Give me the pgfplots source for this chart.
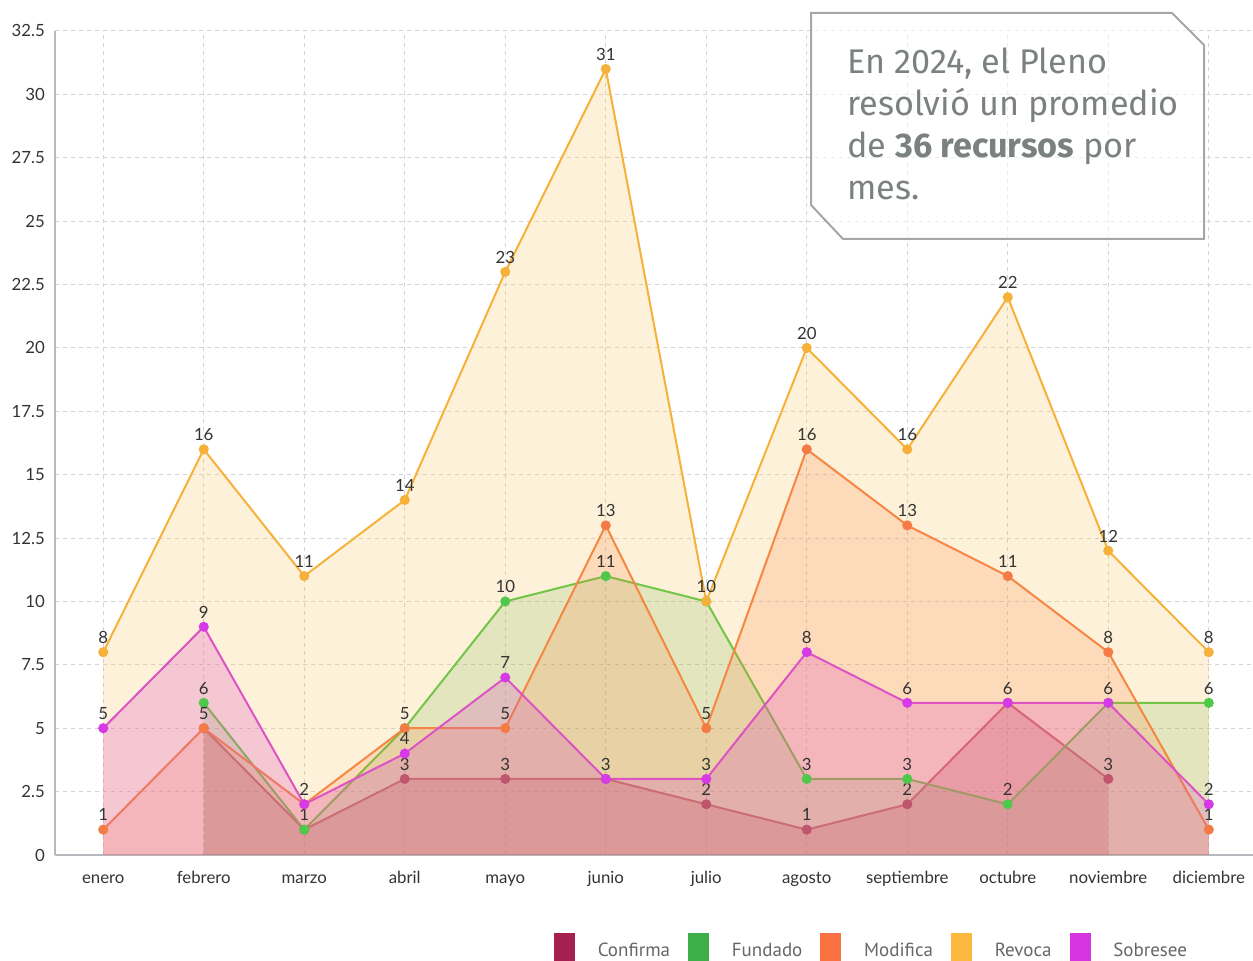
\documentclass[border=0pt]{standalone}
\usepackage{fontspec}
\setmainfont{Lato}
\newfontfamily\boxfont{Fira Sans}
\newfontfamily\legfont{PT Sans}
\usepackage{pgfplots}
\pgfplotsset{compat=1.18}

\definecolor{cConf}{HTML}{A51F4F}
\definecolor{cFund}{HTML}{3EAE48}
\definecolor{cMod}{HTML}{F97242}
\definecolor{cRev}{HTML}{FBBA3F}
\definecolor{cSob}{HTML}{D536E0}
\definecolor{lConf}{HTML}{C0566E}
\definecolor{lFund}{HTML}{50C84A}
\definecolor{lMod}{HTML}{F47B45}
\definecolor{lRev}{HTML}{F6B13A}
\definecolor{lSob}{HTML}{D63AE6}
\definecolor{gridgray}{HTML}{D2D5D8}
\definecolor{axisgray}{HTML}{B5B9BE}
\definecolor{ticktext}{HTML}{333333}
\definecolor{boxline}{HTML}{A3A7A7}
\definecolor{boxtext}{HTML}{7B8080}
\definecolor{legtext}{HTML}{666666}

\begin{document}
\begin{tikzpicture}
\begin{axis}[
  at={(0pt,0pt)}, anchor=south west,
  scale only axis, width=599pt, height=412pt,
  xmin=-0.48, xmax=11.44, ymin=0, ymax=32.5,
  enlargelimits=false, clip=false,
  axis x line*=bottom, axis y line*=left,
  axis line style={-, draw=axisgray, line width=1pt},
  xtick={0,...,11},
  xticklabels={enero,febrero,marzo,abril,mayo,junio,julio,agosto,septiembre,octubre,noviembre,diciembre},
  ytick={0,2.5,5,7.5,10,12.5,15,17.5,20,22.5,25,27.5,30,32.5},
  yticklabels={0,2.5,5,7.5,10,12.5,15,17.5,20,22.5,25,27.5,30,32.5},
  major tick length=0pt,
  grid=major,
  grid style={gridgray, line width=0.5pt, dash pattern=on 2pt off 2pt},
  tick label style={font=\fontsize{8.4}{10}\selectfont, text=ticktext},
  /pgf/number format/assume math mode=true,
  yticklabel style={xshift=-1.5pt},
  xticklabel style={text height=6pt, text depth=2pt, yshift=-4.5pt},
  point meta=explicit symbolic,
  every node near coord/.append style={font=\fontsize{8.4}{10}\selectfont, text=ticktext, yshift=0.5pt},
  legend image code/.code={\fill[#1] (0pt,-8pt) rectangle (10pt,8.9pt);},
  legend style={at={(0.4165,-0.0947)}, anchor=north west, draw=none, fill=none,
    inner sep=0pt, outer sep=0pt,
    font=\legfont\fontsize{9.5}{12}\selectfont, text=legtext,
    nodes={inner sep=0pt},
    /tikz/every odd column/.append style={column sep=11.5pt},
    /tikz/every even column/.append style={column sep=9pt}},
  legend columns=5,
]
% Confirma
\addplot[forget plot, draw=none, fill=cConf, fill opacity=0.25]
  coordinates {(1,5)(2,1)(3,3)(4,3)(5,3)(6,2)(7,1)(8,2)(9,6)(10,3)} \closedcycle;
\addplot[forget plot, lConf, line width=1pt, mark=*, mark size=2pt, mark options={fill=lConf, draw=lConf}, nodes near coords]
  coordinates {(1,5)[] (2,1)[] (3,3)[3] (4,3)[3] (5,3)[] (6,2)[2] (7,1)[1] (8,2)[2] (9,6)[] (10,3)[3]};
% Fundado
\addplot[forget plot, draw=none, fill=cFund, fill opacity=0.18]
  coordinates {(1,6)(2,1)(3,5)(4,10)(5,11)(6,10)(7,3)(8,3)(9,2)(10,6)(11,6)} \closedcycle;
\addplot[forget plot, lFund, line width=1pt, mark=*, mark size=2pt, mark options={fill=lFund, draw=lFund}, nodes near coords]
  coordinates {(1,6)[6] (2,1)[1] (3,5)[] (4,10)[10] (5,11)[11] (6,10)[] (7,3)[3] (8,3)[3] (9,2)[2] (10,6)[] (11,6)[6]};
% Modifica
\addplot[forget plot, draw=none, fill=cMod, fill opacity=0.2]
  coordinates {(0,1)(1,5)(2,2)(3,5)(4,5)(5,13)(6,5)(7,16)(8,13)(9,11)(10,8)(11,1)} \closedcycle;
\addplot[forget plot, lMod, line width=1pt, mark=*, mark size=2pt, mark options={fill=lMod, draw=lMod}, nodes near coords]
  coordinates {(0,1)[1] (1,5)[5] (2,2)[2] (3,5)[5] (4,5)[5] (5,13)[13] (6,5)[5] (7,16)[16] (8,13)[13] (9,11)[11] (10,8)[8] (11,1)[1]};
% Sobresee
\addplot[forget plot, draw=none, fill=cSob, fill opacity=0.26]
  coordinates {(0,5)(1,9)(2,2)(3,4)(4,7)(5,3)(6,3)(7,8)(8,6)(9,6)(10,6)(11,2)} \closedcycle;
\addplot[forget plot, lSob, line width=1pt, mark=*, mark size=2pt, mark options={fill=lSob, draw=lSob}, nodes near coords]
  coordinates {(0,5)[5] (1,9)[9] (2,2)[] (3,4)[4] (4,7)[7] (5,3)[3] (6,3)[3] (7,8)[8] (8,6)[6] (9,6)[6] (10,6)[6] (11,2)[2]};
% Revoca
\addplot[forget plot, draw=none, fill=cRev, fill opacity=0.2]
  coordinates {(0,8)(1,16)(2,11)(3,14)(4,23)(5,31)(6,10)(7,20)(8,16)(9,22)(10,12)(11,8)} \closedcycle;
\addplot[forget plot, lRev, line width=1pt, mark=*, mark size=2pt, mark options={fill=lRev, draw=lRev}, nodes near coords]
  coordinates {(0,8)[8] (1,16)[16] (2,11)[11] (3,14)[14] (4,23)[23] (5,31)[31] (6,10)[10] (7,20)[20] (8,16)[16] (9,22)[22] (10,12)[12] (11,8)[8]};

\addlegendimage{cConf}\addlegendentry{Confirma}
\addlegendimage{cFund}\addlegendentry{Fundado}
\addlegendimage{cMod}\addlegendentry{Modifica}
\addlegendimage{cRev}\addlegendentry{Revoca}
\addlegendimage{cSob}\addlegendentry{Sobresee}
\end{axis}

% text box
\fill[white, fill opacity=0.55] (378pt,421pt) -- (558.5pt,421pt) -- (574.5pt,405pt) -- (574.5pt,308pt) -- (394pt,308pt) -- (378pt,325pt) -- cycle;
\draw[boxline, line width=1pt] (378pt,421pt) -- (558.5pt,421pt) -- (574.5pt,405pt) -- (574.5pt,308pt) -- (394pt,308pt) -- (378pt,325pt) -- cycle;
\node[anchor=north west, align=left, inner sep=0pt, text=boxtext,
  font=\boxfont\fontsize{17.1}{21}\selectfont] at (396pt,404pt)
  {En 2024, el Pleno\\resolvió un promedio\\de \textbf{36 recursos} por\\mes.};

\pgfresetboundingbox
\useasboundingbox (-27.5pt,-53pt) rectangle (599pt,427.5pt);
\end{tikzpicture}
\end{document}
